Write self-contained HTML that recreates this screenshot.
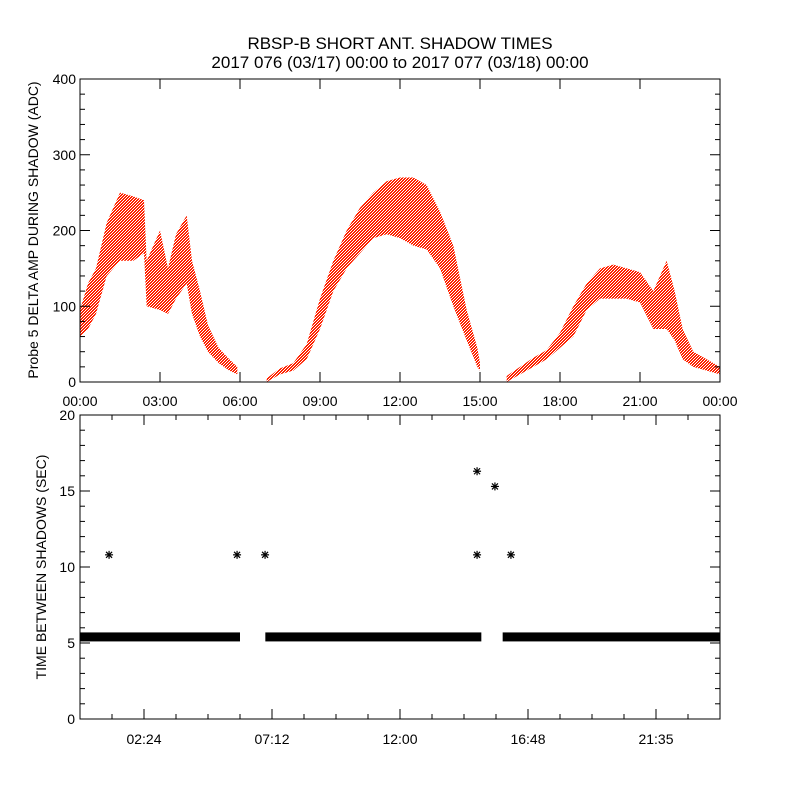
<!DOCTYPE html>
<html><head><meta charset="utf-8"><style>
body{margin:0;background:#fff}
svg text{font-family:"Liberation Sans",sans-serif;fill:#000}
</style></head><body>
<svg id="c" width="800" height="800" xmlns="http://www.w3.org/2000/svg">
<defs>
<pattern id="dots" width="3" height="3" patternUnits="userSpaceOnUse">
<rect x="0" y="0" width="2" height="1" fill="#ff2200"/><rect x="2" y="1" width="1" height="1" fill="#ff2200"/><rect x="1" y="2" width="2" height="1" fill="#ff2200"/><rect x="0" y="1" width="1" height="1" fill="#ff2200"/>
</pattern>
</defs>
<rect width="800" height="800" fill="#fff"/>
<text x="400" y="49" font-size="17" text-anchor="middle">RBSP-B SHORT ANT. SHADOW TIMES</text>
<text x="400" y="68" font-size="17" text-anchor="middle">2017 076 (03/17) 00:00 to 2017 077 (03/18) 00:00</text>
<g id="top"></g>
<g id="bot"></g>
</svg>
<script>
// Top panel data: segments of [hour, lower, upper]
const seg1Hours=[0,0.3,0.6,1.0,1.5,2.0,2.4,2.5,3.0,3.3,3.6,4.0,4.2,4.5,4.8,5.2,5.6,5.9];
const seg1Low=[60,70,90,140,160,160,170,100,95,90,110,130,90,60,40,25,15,10];
const seg1High=[95,130,150,210,250,245,240,160,200,150,195,220,160,120,75,45,30,20];
const seg2Hours=[7.0,7.5,8.0,8.5,9.0,9.5,10,10.5,11,11.5,12,12.5,13,13.5,14,14.5,14.9,15.0];
const seg2Low=[0,10,15,30,70,120,150,170,190,195,190,180,175,150,100,55,20,15];
const seg2High=[5,18,25,50,110,160,200,230,250,265,270,270,260,225,180,95,45,25];
const seg3Hours=[16,16.5,17,17.5,18,18.5,19,19.5,20,20.5,21,21.5,22,22.3,22.6,23,23.5,24];
const seg3Low=[0,10,20,30,45,60,95,110,110,110,105,70,70,55,30,20,15,10];
const seg3High=[8,20,32,42,65,100,130,150,155,150,145,120,160,120,70,40,30,20];
const topYTicks=[0,100,200,300,400];
const topXLabels=["00:00","03:00","06:00","09:00","12:00","15:00","18:00","21:00","00:00"];
// Bottom panel data
const bandStart=[0,6.95,15.85];
const bandEnd=[6.0,15.05,24];
const bandValue=[5.4,5.4,5.4];
const starHours=[1.09,5.89,6.94,14.89,14.89,15.56,16.16];
const starValues=[10.8,10.8,10.8,16.3,10.8,15.3,10.8];
const botYTicks=[0,5,10,15,20];
const botXTickHours=[2.4,7.2,12.0,16.8,21.6];
const botXLabels=["02:24","07:12","12:00","16:48","21:35"];

const NS="http://www.w3.org/2000/svg";
const L=80,R=720;
const xs=h=>L+(R-L)*h/24;
const yTop=v=>382-(382-79)*v/400;
const yBot=v=>719-(719-415)*v/20;
function mk(tag,attrs,parent){const e=document.createElementNS(NS,tag);for(const k in attrs)e.setAttribute(k,attrs[k]);parent.appendChild(e);return e;}
const topG=document.getElementById('top'),botG=document.getElementById('bot');

[[seg1Hours,seg1Low,seg1High],[seg2Hours,seg2Low,seg2High],[seg3Hours,seg3Low,seg3High]].forEach((s,i)=>{
  const pts=[];
  s[0].forEach((h,j)=>pts.push(xs(h)+','+yTop(s[2][j])));
  for(let j=s[0].length-1;j>=0;j--)pts.push(xs(s[0][j])+','+yTop(s[1][j]));
  const p=mk('polygon',{points:pts.join(' '),fill:'url(#dots)'},topG);
  
  
});
const f1=mk('rect',{x:L,y:79,width:R-L,height:303,fill:'none',stroke:'#000','stroke-width':1},topG);


for(let v=0;v<=400;v+=20){const y=yTop(v),len=v%100===0?10:5;
  mk('line',{x1:L,x2:L+len,y1:y,y2:y,stroke:'#000'},topG);mk('line',{x1:R,x2:R-len,y1:y,y2:y,stroke:'#000'},topG);}
topYTicks.forEach(v=>{const t=mk('text',{x:L-4,y:yTop(v)+5,'font-size':14,'text-anchor':'end'},topG);t.textContent=v;
  
  });
topXLabels.forEach((s,i)=>{const x=xs(i*3);
  mk('line',{x1:x,x2:x,y1:382,y2:372,stroke:'#000'},topG);mk('line',{x1:x,x2:x,y1:79,y2:89,stroke:'#000'},topG);
  const t=mk('text',{x:x,y:406,'font-size':14,'text-anchor':'middle'},topG);t.textContent=s;
  
  });
const yt=mk('text',{x:0,y:0,'font-size':14,'text-anchor':'middle',transform:'translate(38,230) rotate(-90)'},topG);
yt.textContent='Probe 5 DELTA AMP DURING SHADOW (ADC)';



bandStart.forEach((s,i)=>{const r=mk('rect',{x:xs(s),y:yBot(bandValue[i])-4.5,width:xs(bandEnd[i])-xs(s),height:9,fill:'#000'},botG);
  
  });
starHours.forEach((h,i)=>{const x=xs(h),y=yBot(starValues[i]);
  const g=mk('g',{stroke:'#000','stroke-width':1.2},botG);
  
  
  mk('line',{x1:x-4,x2:x+4,y1:y,y2:y},g);mk('line',{x1:x,x2:x,y1:y-4,y2:y+4},g);
  mk('line',{x1:x-3,x2:x+3,y1:y-3,y2:y+3},g);mk('line',{x1:x-3,x2:x+3,y1:y+3,y2:y-3},g);});
const f2=mk('rect',{x:L,y:415,width:R-L,height:304,fill:'none',stroke:'#000','stroke-width':1},botG);


for(let v=0;v<=20;v+=1){const y=yBot(v),len=v%5===0?10:5;
  mk('line',{x1:L,x2:L+len,y1:y,y2:y,stroke:'#000'},botG);mk('line',{x1:R,x2:R-len,y1:y,y2:y,stroke:'#000'},botG);}
for(let k=1;k<20;k++){const x=xs(k*1.2),len=(k%4===2)?10:5;
  mk('line',{x1:x,x2:x,y1:719,y2:719-len,stroke:'#000'},botG);mk('line',{x1:x,x2:x,y1:415,y2:415+len,stroke:'#000'},botG);}
botYTicks.forEach(v=>{const t=mk('text',{x:L-5,y:yBot(v)+5,'font-size':14,'text-anchor':'end'},botG);t.textContent=v;
  
  });
botXLabels.forEach((s,i)=>{const x=xs(botXTickHours[i]);
  const t=mk('text',{x:x,y:744,'font-size':14,'text-anchor':'middle'},botG);t.textContent=s;
  
  });
const yt2=mk('text',{x:0,y:0,'font-size':14,'text-anchor':'middle',transform:'translate(46,567) rotate(-90)'},botG);
yt2.textContent='TIME BETWEEN SHADOWS (SEC)';


</script>
</body></html>
